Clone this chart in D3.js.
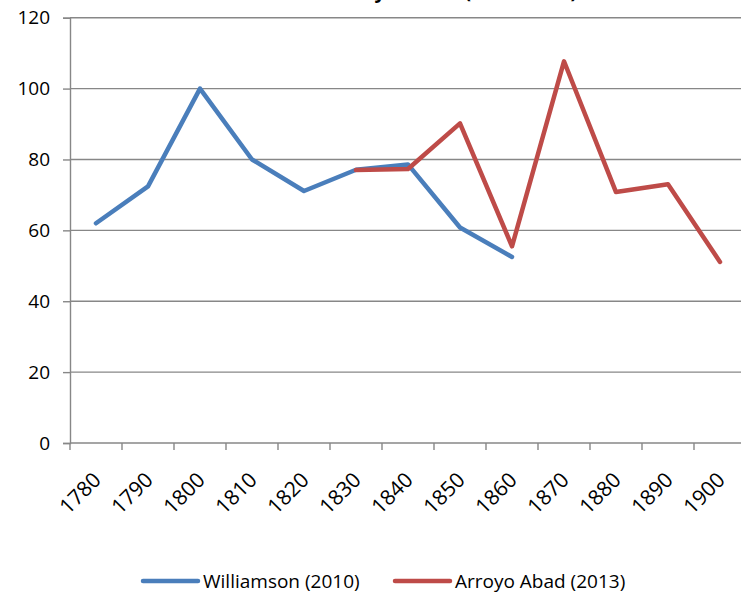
<!DOCTYPE html>
<html>
<head>
<meta charset="utf-8">
<script src="https://cdn.jsdelivr.net/npm/d3@7"></script>
<style>
  html, body { margin: 0; padding: 0; background: #fff; }
  svg { display: block; }
  text { font-family: "Open Sans", "Noto Sans", sans-serif; fill: #000; }
</style>
</head>
<body>
<svg id="chart" width="741" height="596"></svg>
<script>
const title = "Land Rent to Salary Indices (1800 = 100)";
const categories = ["1780","1790","1800","1810","1820","1830","1840","1850","1860","1870","1880","1890","1900"];
const williamson = [62, 72.4, 100, 80, 71.1, 77.1, 78.6, 60.8, 52.5, null, null, null, null];
const arroyoAbad = [null, null, null, null, null, 77, 77.3, 90.2, 55.5, 107.7, 70.8, 73, 51.1];
const yTicks = [0, 20, 40, 60, 80, 100, 120];
const seriesNames = ["Williamson (2010)", "Arroyo Abad (2013)"];
const seriesColors = ["#4A7EBB", "#BE4B48"];

const svg = d3.select("#chart");
const plotLeft = 70, plotRight = 746, plotTop = 17.7, plotBottom = 443;

const x = d3.scaleBand().domain(categories).range([plotLeft, plotRight]).padding(0);
const y = d3.scaleLinear().domain([0, 120]).range([plotBottom, plotTop]);

// title (mostly cropped off the top)
svg.append("text")
  .attr("x", 577).attr("y", -2.5)
  .attr("text-anchor", "end")
  .style("font-weight", "bold").style("font-size", "19.5px")
  .text(title);

// gridlines
svg.append("g").selectAll("line").data(yTicks.filter(d => d > 0)).join("line")
  .attr("x1", plotLeft).attr("x2", 741)
  .attr("y1", d => y(d)).attr("y2", d => y(d))
  .attr("stroke", "#878787").attr("stroke-width", 1.4);

// y axis
const yAxis = svg.append("g").attr("transform", `translate(${plotLeft},0)`)
  .call(d3.axisLeft(y).tickValues(yTicks).tickSize(7).tickPadding(13));
yAxis.select(".domain").attr("stroke", "#878787").attr("stroke-width", 1.4);
yAxis.selectAll(".tick line").attr("stroke", "#878787").attr("stroke-width", 1.4);
yAxis.selectAll(".tick text").style("font-size", "19px").style("font-family", "'Open Sans', sans-serif").attr("fill", "#000");

// x axis (ticks between categories)
svg.append("line").attr("x1", plotLeft).attr("x2", 741).attr("y1", plotBottom).attr("y2", plotBottom)
  .attr("stroke", "#878787").attr("stroke-width", 1.4);
svg.append("g").selectAll("line").data(categories).join("line")
  .attr("x1", d => x(d)).attr("x2", d => x(d))
  .attr("y1", plotBottom).attr("y2", plotBottom + 7)
  .attr("stroke", "#878787").attr("stroke-width", 1.4);
svg.append("g").selectAll("text").data(categories).join("text")
  .attr("transform", d => `translate(${x(d) + x.bandwidth() / 2 + 1},${plotBottom + 33}) rotate(-45)`)
  .attr("text-anchor", "end").attr("dy", "0.35em")
  .style("font-size", "21px")
  .text(d => d);

// lines
const line = d3.line()
  .defined(d => d != null)
  .x((d, i) => x(categories[i]) + x.bandwidth() / 2)
  .y(d => y(d));
[williamson, arroyoAbad].forEach((s, k) => {
  svg.append("path").datum(s)
    .attr("d", line)
    .attr("fill", "none")
    .attr("stroke", seriesColors[k])
    .attr("stroke-width", 4.5)
    .attr("stroke-linejoin", "round")
    .attr("stroke-linecap", "round");
});

// legend
const legendXs = [143, 395];
const lg = svg.append("g");
seriesNames.forEach((name, k) => {
  const lx = legendXs[k];
  lg.append("line").attr("x1", lx).attr("x2", lx + 55).attr("y1", 581).attr("y2", 581)
    .attr("stroke", seriesColors[k]).attr("stroke-width", 4.5).attr("stroke-linecap", "round");
  lg.append("text").attr("x", lx + 60).attr("y", 581).attr("dy", "0.35em")
    .style("font-size", "19px").text(name);
});
</script>
</body>
</html>
